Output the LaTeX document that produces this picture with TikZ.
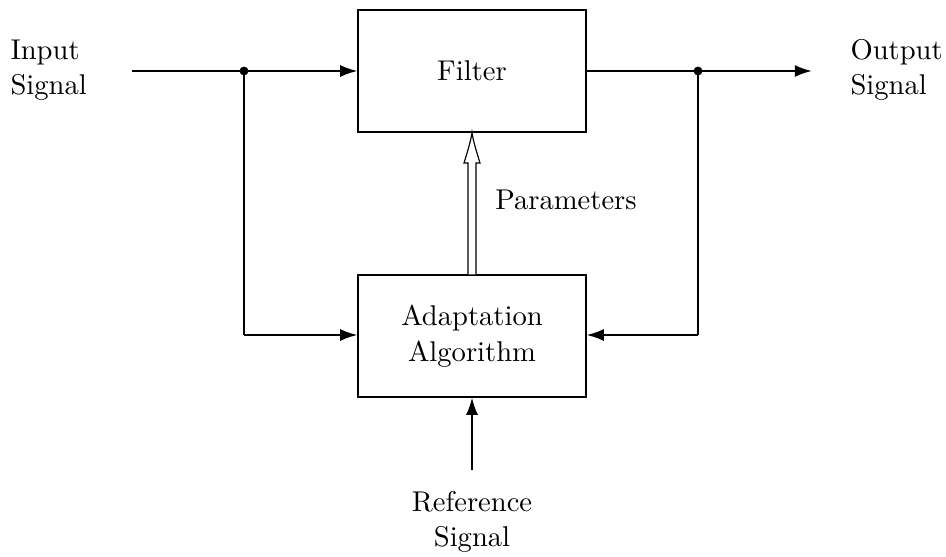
\documentclass[tikz,border=0pt]{standalone}
\usetikzlibrary{arrows.meta}
\begin{document}
\begin{tikzpicture}[x=0.383pt, y=-0.383pt,
  every node/.style={font=\fontsize{10.95}{13.6}\selectfont},
  block/.style={draw, line width=0.4pt, minimum width=228*0.383pt, minimum height=122*0.383pt, align=center, inner sep=0pt},
  label/.style={align=left, inner sep=0pt},
  sig/.style={line width=0.8pt, -{Latex[length=6.6pt,width=4.6pt]}},
  wire/.style={line width=0.8pt},
  junction/.style={circle, fill, inner sep=0pt, minimum size=3.4pt}]
\useasboundingbox (0,0) rectangle (946,556);

% blocks
\node[block] (filter) at (472,71) {Filter};
\node[block] (adapt) at (472,336) {Adaptation\\Algorithm};

% terminal labels
\node[label, anchor=west] (in) at (10,70) {Input\\Signal};
\node[label, anchor=west] (out) at (850,70) {Output\\Signal};
\node[align=center, inner sep=0pt] (ref) at (472,522) {Reference\\Signal};
\node[inner sep=0pt] (par) at (566,200) {Parameters};

% junctions and free ends
\coordinate (inStart) at (132,71);
\node[junction] (jin) at (244,71) {};
\node[junction] (jout) at (698,71) {};
\coordinate (outEnd) at (812,71);
\coordinate (refStart) at (472,470);
\coordinate (inCorner) at (244,335);
\coordinate (outCorner) at (698,335);

% signal paths
\draw[sig] (inStart) -- (filter.west);
\draw[wire] (jin.center) -- (inCorner);
\draw[sig] (inCorner) -- (adapt.west |- inCorner);
\draw[sig] (filter.east) -- (outEnd);
\draw[wire] (jout.center) -- (outCorner);
\draw[sig] (outCorner) -- (adapt.east |- outCorner);
\draw[sig] (refStart) -- (adapt.south);

% hollow parameter arrow from the algorithm up to the filter
\draw[line width=0.45pt, fill=white]
  (adapt.north -| 468,0) -- (468,163) -- (464,163)
  .. controls (468,150) and (471,140) .. (filter.south)
  .. controls (473,140) and (476,150) .. (480,163)
  -- (476,163) -- (adapt.north -| 476,0);
\end{tikzpicture}
\end{document}
